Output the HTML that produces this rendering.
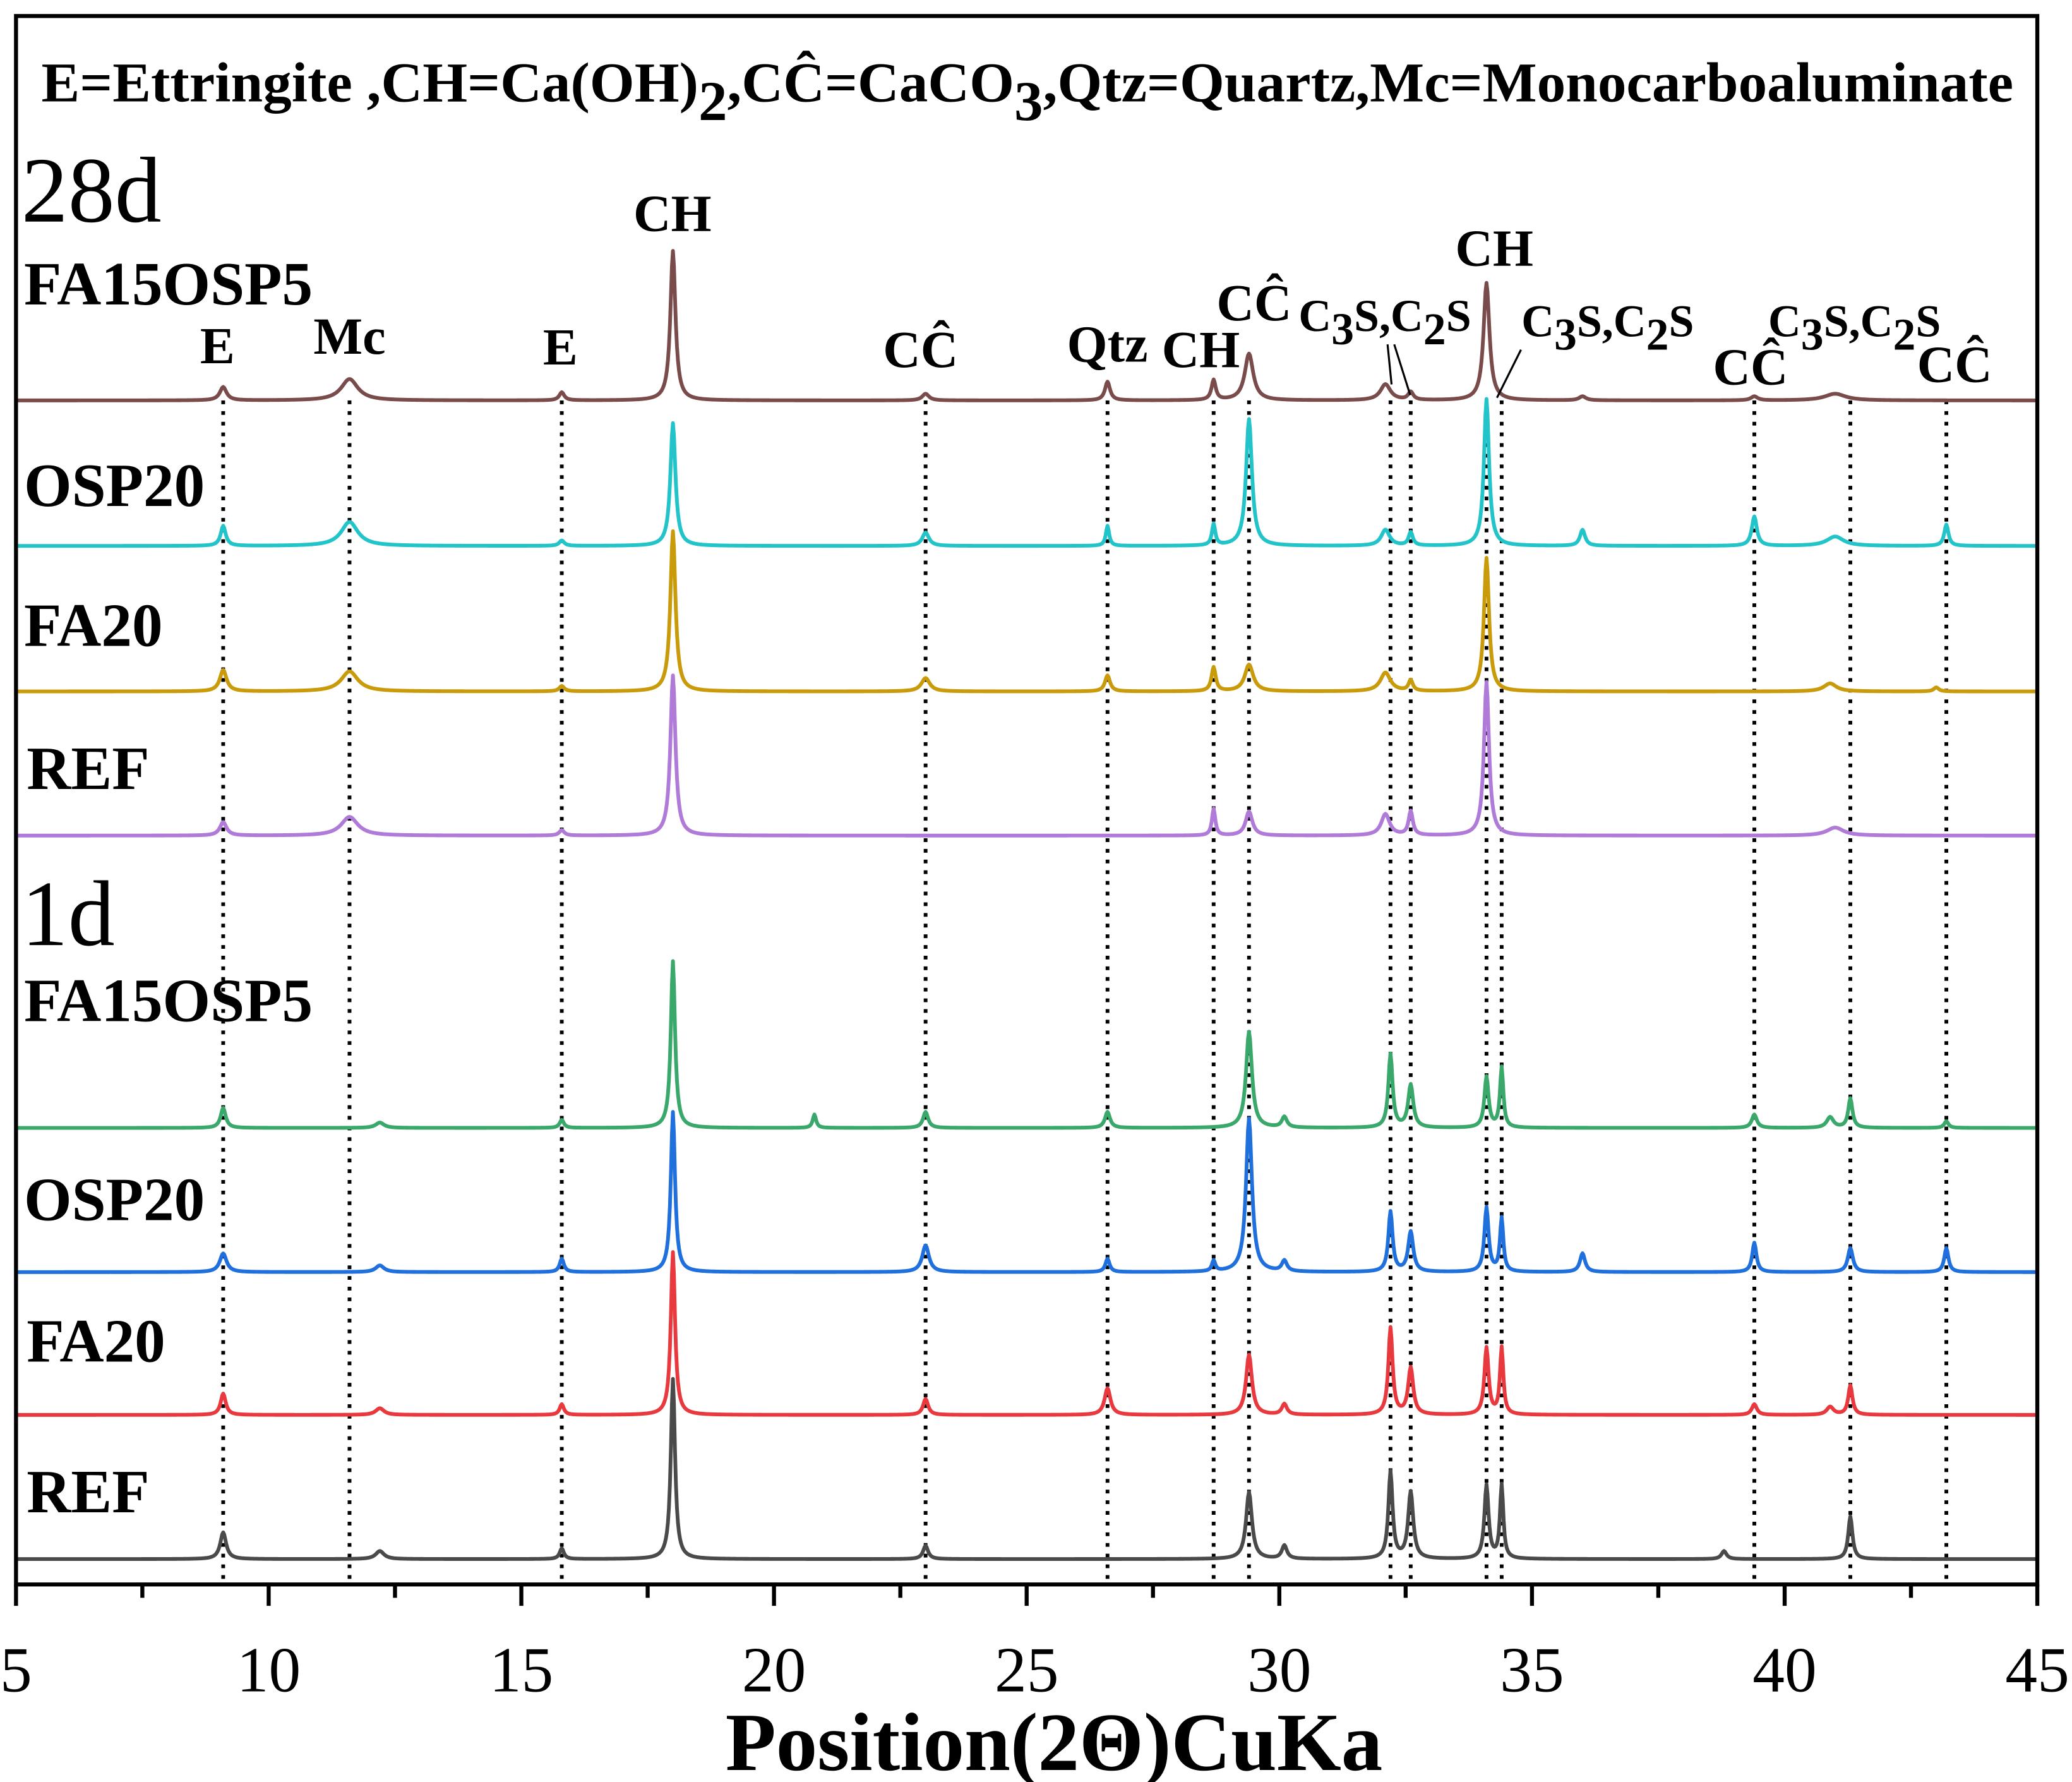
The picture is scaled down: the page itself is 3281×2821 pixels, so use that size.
<!DOCTYPE html>
<html><head><meta charset="utf-8"><style>
html,body{margin:0;padding:0;background:#fff}
svg{display:block}
text{font-family:"Liberation Serif",serif;fill:#000}
.b{font-weight:bold}
</style></head><body>
<svg id="chart" width="3281" height="2821" viewBox="0 0 1553 1335" preserveAspectRatio="none" xmlns="http://www.w3.org/2000/svg">
<rect x="0" y="0" width="1553" height="1335" fill="#fff"/>
<g id="guides"></g>
<g id="traces"></g>
<rect x="12" y="12" width="1515" height="1175" fill="none" stroke="#000" stroke-width="3"/>
<g id="axis"></g>
<text class="b" x="770" y="76" font-size="42" text-anchor="middle" textLength="1478" lengthAdjust="spacingAndGlyphs">E=Ettringite ,CH=Ca(OH)<tspan dy="14">2</tspan><tspan dy="-14">,CĈ=CaCO</tspan><tspan dy="14">3</tspan><tspan dy="-14">,Qtz=Quartz,Mc=Monocarboaluminate</tspan></text>
<text x="16" y="166" font-size="70">28d</text>
<text x="16" y="708" font-size="70">1d</text>
<g class="b" font-size="46">
<text x="18" y="228" class="b">FA15OSP5</text>
<text x="18" y="379" class="b">OSP20</text>
<text x="18" y="484" class="b">FA20</text>
<text x="20" y="591" class="b">REF</text>
<text x="18" y="765" class="b">FA15OSP5</text>
<text x="18" y="914" class="b">OSP20</text>
<text x="20" y="1020" class="b">FA20</text>
<text x="20" y="1133" class="b">REF</text>
</g>
<g class="b" font-size="39" text-anchor="middle">
<text class="b" x="163" y="272">E</text>
<text class="b" x="262" y="265">Mc</text>
<text class="b" x="420" y="273">E</text>
<text class="b" x="504" y="173">CH</text>
<text class="b" x="690" y="275">CĈ</text>
<text class="b" x="830" y="271">Qtz</text>
<text class="b" x="900" y="275">CH</text>
<text class="b" x="940" y="240">CĈ</text>
<text class="b" x="1038" y="248" font-size="34">C<tspan dy="10">3</tspan><tspan dy="-10">S,C</tspan><tspan dy="10">2</tspan><tspan dy="-10">S</tspan></text>
<text class="b" x="1120" y="199">CH</text>
<text class="b" x="1205" y="252" font-size="34">C<tspan dy="10">3</tspan><tspan dy="-10">S,C</tspan><tspan dy="10">2</tspan><tspan dy="-10">S</tspan></text>
<text class="b" x="1312" y="288">CĈ</text>
<text class="b" x="1390" y="252" font-size="34">C<tspan dy="10">3</tspan><tspan dy="-10">S,C</tspan><tspan dy="10">2</tspan><tspan dy="-10">S</tspan></text>
<text class="b" x="1465" y="286">CĈ</text>
</g>
<path d="M1040 258 L1043 288 M1045 258 L1057 296 M1140 262 L1122 298" stroke="#000" stroke-width="1.5" fill="none"/>
<text class="b" x="790" y="1326" font-size="62" text-anchor="middle">Position(2Θ)CuKa</text>
</svg>
<script>
const xMin=5, xMax=45;
const tickValues=[5,10,15,20,25,30,35,40,45];
const guideLines=[9.1,11.6,15.8,23.0,26.6,28.7,29.4,32.2,32.6,34.1,34.4,39.4,41.3,43.2];
const seriesNames=['28d-fa15osp5','28d-osp20','28d-fa20','28d-ref','1d-fa15osp5','1d-osp20','1d-fa20','1d-ref'];
const seriesColors=['#7a4b4b','#22c4c9','#c99a0a','#b07ad8','#3aa86a','#1f6fdc','#e8393e','#4a4a4a'];
const seriesBaselines=[300,409,518,626,845,953,1060,1168];
// peaks: [position, height, width]
const peaks0=[[9.1,10,.08],[11.6,16,.2],[15.8,6,.06],[18.0,112,.06],[23.0,5,.08],[26.6,14,.06],[28.7,15,.05],[29.4,35,.1],[32.1,12,.12],[32.6,6,.06],[34.1,88,.07],[36.0,3,.08],[39.4,3,.08],[41.0,5,.25]];
const peaks1=[[9.1,15,.06],[11.6,18,.2],[15.8,4,.06],[18.0,92,.06],[23.0,10,.08],[26.6,15,.04],[28.7,16,.04],[29.4,95,.07],[32.1,12,.1],[32.6,10,.05],[34.1,110,.06],[36.0,12,.06],[39.4,22,.06],[41.0,7,.2],[43.2,16,.05]];
const peaks2=[[9.1,16,.08],[11.6,15,.2],[15.8,4,.06],[18.0,120,.06],[23.0,10,.1],[26.6,12,.06],[28.7,18,.05],[29.4,20,.1],[32.1,14,.12],[32.6,8,.05],[34.1,100,.06],[40.9,6,.15],[43.0,3,.06]];
const peaks3=[[9.1,10,.08],[11.6,14,.2],[15.8,4,.06],[18.0,120,.06],[28.7,20,.04],[29.4,18,.08],[32.1,16,.1],[32.6,18,.05],[34.1,115,.06],[41.0,6,.2]];
const peaks4=[[9.1,15,.06],[12.2,4,.1],[15.8,6,.05],[18.0,125,.05],[20.8,10,.04],[23.0,12,.06],[26.6,12,.06],[29.4,72,.07],[30.1,8,.06],[32.2,55,.05],[32.6,32,.06],[34.1,38,.05],[34.4,45,.04],[39.4,10,.06],[40.9,8,.08],[41.3,22,.05],[43.2,5,.05]];
const peaks5=[[9.1,14,.08],[12.2,5,.1],[15.8,10,.05],[18.0,120,.05],[23.0,20,.08],[26.6,10,.05],[28.7,8,.04],[29.4,115,.07],[30.1,8,.06],[32.2,45,.05],[32.6,30,.06],[34.1,48,.05],[34.4,40,.04],[36.0,14,.06],[39.4,22,.05],[41.3,18,.06],[43.2,18,.05]];
const peaks6=[[9.1,16,.06],[12.2,5,.1],[15.8,8,.05],[18.0,122,.05],[23.0,12,.06],[26.6,20,.07],[29.4,45,.07],[30.1,8,.06],[32.2,65,.05],[32.6,35,.06],[34.1,50,.05],[34.4,50,.04],[39.4,8,.06],[40.9,6,.08],[41.3,22,.05]];
const peaks7=[[9.1,20,.07],[12.2,6,.1],[15.8,8,.05],[18.0,135,.05],[23.0,10,.06],[29.4,50,.07],[30.1,10,.06],[32.2,65,.05],[32.6,50,.06],[34.1,55,.05],[34.4,55,.04],[38.8,6,.06],[41.3,32,.05]];
const allPeaks=[peaks0,peaks1,peaks2,peaks3,peaks4,peaks5,peaks6,peaks7];

const NS='http://www.w3.org/2000/svg';
const X0=12, X1=1527, YB=1187;
function xScale(v){return X0+(v-xMin)/(xMax-xMin)*(X1-X0);}
function yScale(base,h){return base-h;}

const guides=document.getElementById('guides');
guideLines.forEach(v=>{
  const l=document.createElementNS(NS,'line');
  
  
  l.setAttribute('x1',xScale(v));l.setAttribute('x2',xScale(v));
  l.setAttribute('y1',300);l.setAttribute('y2',YB);
  l.setAttribute('stroke','#000');l.setAttribute('stroke-width','2.8');
  l.setAttribute('stroke-dasharray','2.8 5.2');
  guides.appendChild(l);
});

const traces=document.getElementById('traces');
allPeaks.forEach((pk,i)=>{
  let d='';
  for(let v=xMin; v<=xMax+1e-9; v+=0.02){
    let h=0;
    pk.forEach(p=>{const g=p[2]; const t=(v-p[0])/g; h+=p[1]/(1+t*t);});
    d+=(d?'L':'M')+xScale(v).toFixed(2)+' '+yScale(seriesBaselines[i],h).toFixed(2);
  }
  const p=document.createElementNS(NS,'path');
  
  
  p.setAttribute('d',d);
  p.setAttribute('fill','none');
  p.setAttribute('stroke',seriesColors[i]);
  p.setAttribute('stroke-width','2.8');
  p.setAttribute('stroke-linejoin','round');
  traces.appendChild(p);
});

const axis=document.getElementById('axis');
for(let v=xMin; v<=xMax; v+=2.5){
  const major=tickValues.includes(v);
  const l=document.createElementNS(NS,'line');
  
  
  l.setAttribute('x1',xScale(v));l.setAttribute('x2',xScale(v));
  l.setAttribute('y1',YB);l.setAttribute('y2',YB+(major?16:10));
  l.setAttribute('stroke','#000');l.setAttribute('stroke-width','3');
  axis.appendChild(l);
}
tickValues.forEach(v=>{
  const t=document.createElementNS(NS,'text');
  
  
  t.setAttribute('x',xScale(v));t.setAttribute('y',1267);
  t.setAttribute('font-size','48');t.setAttribute('text-anchor','middle');
  t.textContent=v;
  axis.appendChild(t);
});
</script>
</body></html>
